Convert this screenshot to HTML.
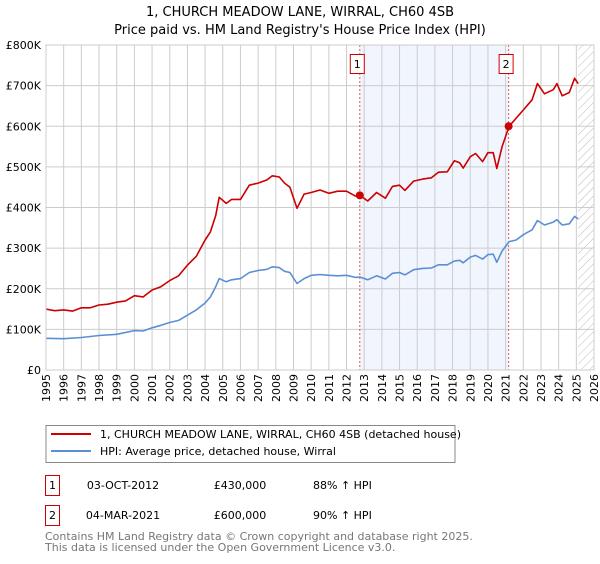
<!DOCTYPE html>
<html><head><meta charset="utf-8"><style>
body{margin:0;background:#fff;width:600px;height:560px;overflow:hidden;font-family:"DejaVu Sans","Liberation Sans",sans-serif;}
svg text{font-family:"DejaVu Sans","Liberation Sans",sans-serif;}
</style></head><body>
<svg id="chart" width="600" height="560" xmlns="http://www.w3.org/2000/svg">
<defs><pattern id="hatch" width="6" height="6" patternUnits="userSpaceOnUse" patternTransform="rotate(45)"><line x1="0" y1="0" x2="0" y2="6" stroke="#bbb" stroke-width="1"/></pattern></defs>
<text x="300" y="16" text-anchor="middle" font-size="13">1, CHURCH MEADOW LANE, WIRRAL, CH60 4SB</text>
<text x="300" y="34" text-anchor="middle" font-size="13">Price paid vs. HM Land Registry's House Price Index (HPI)</text>
<g id="plot"></g>
<g>
<rect x="46" y="425.5" width="409" height="37" fill="#fff" stroke="#888"/>
<line x1="51" y1="434" x2="91" y2="434" stroke="#cc0000" stroke-width="2"/>
<text x="100" y="438" font-size="11">1, CHURCH MEADOW LANE, WIRRAL, CH60 4SB (detached house)</text>
<line x1="51" y1="451" x2="91" y2="451" stroke="#5b8fd4" stroke-width="2"/>
<text x="100" y="455" font-size="11">HPI: Average price, detached house, Wirral</text>
</g>
<g font-size="11">
<rect x="45.5" y="475.5" width="14" height="20" fill="#fff" stroke="#cc0000"/>
<text x="52.5" y="489" text-anchor="middle">1</text>
<text x="123" y="489" text-anchor="middle">03-OCT-2012</text>
<text x="240" y="489" text-anchor="middle">£430,000</text>
<text x="313" y="489">88% ↑ HPI</text>
</g>
<g font-size="11">
<rect x="45.5" y="505.5" width="14" height="20" fill="#fff" stroke="#cc0000"/>
<text x="52.5" y="519" text-anchor="middle">2</text>
<text x="123" y="519" text-anchor="middle">04-MAR-2021</text>
<text x="240" y="519" text-anchor="middle">£600,000</text>
<text x="313" y="519">90% ↑ HPI</text>
</g>
<text x="45" y="540" font-size="11" fill="#777">Contains HM Land Registry data © Crown copyright and database right 2025.</text>
<text x="45" y="551" font-size="11" fill="#777">This data is licensed under the Open Government Licence v3.0.</text>
</svg>
<script>
const hpiYears=[1995,1996,1997,1998,1999,2000,2000.5,2001,2001.5,2002,2002.5,2003,2003.5,2004,2004.3,2004.6,2004.8,2005.2,2005.5,2006,2006.5,2007,2007.5,2007.8,2008.2,2008.5,2008.8,2009.2,2009.6,2010,2010.5,2011,2011.5,2012,2012.5,2012.75,2013.2,2013.7,2014.2,2014.6,2015,2015.3,2015.8,2016.3,2016.8,2017.2,2017.7,2018.1,2018.4,2018.6,2019,2019.3,2019.7,2020,2020.3,2020.5,2020.8,2021.2,2021.6,2022,2022.5,2022.8,2023.2,2023.7,2023.9,2024.2,2024.6,2024.9,2025.1];
const hpiValues=[78,77,80,85,88,97,96,104,110,117,122,135,148,165,180,205,225,217,222,225,240,245,248,254,252,243,240,213,225,233,235,233,232,233,228,229,222,232,224,238,240,234,247,250,251,259,259,268,270,264,278,282,273,284,285,265,293,316,320,333,345,368,357,364,370,357,360,378,372];
const priceYears=[1995,1995.5,1996,1996.5,1997,1997.5,1998,1998.5,1999,1999.5,2000,2000.5,2001,2001.5,2002,2002.5,2003,2003.5,2004,2004.3,2004.6,2004.8,2005.2,2005.5,2006,2006.5,2007,2007.5,2007.8,2008.2,2008.5,2008.8,2009.2,2009.6,2010,2010.5,2011,2011.5,2012,2012.5,2012.75,2013.2,2013.7,2014.2,2014.6,2015,2015.3,2015.8,2016.3,2016.8,2017.2,2017.7,2018.1,2018.4,2018.6,2019,2019.3,2019.7,2020,2020.3,2020.5,2020.8,2021.2,2021.6,2022,2022.5,2022.8,2023.2,2023.7,2023.9,2024.2,2024.6,2024.9,2025.1];
const priceValues=[150,146,148,145,153,153,160,162,167,170,183,180,197,205,220,232,258,280,320,340,380,425,410,420,420,455,460,468,478,475,460,450,398,433,437,443,435,440,440,428,430,416,437,423,452,455,442,465,470,473,487,488,515,510,497,525,533,513,535,535,496,550,600,620,640,665,705,680,690,705,675,683,718,705];
const saleYears=[2012.75,2021.17];
const saleValues=[430,600];
const saleLabels=["1","2"];
const yTicks=[0,100,200,300,400,500,600,700,800];
const yTickLabels=["£0","£100K","£200K","£300K","£400K","£500K","£600K","£700K","£800K"];
const xStart=1995,xEnd=2026;

const X0=46,X1=594,Y0=370,Y1=45;
const xs=y=>X0+(y-xStart)/(xEnd-xStart)*(X1-X0);
const ys=v=>Y0-v/800*(Y0-Y1);
const NS="http://www.w3.org/2000/svg";
const g=document.getElementById('plot');
function mk(t,a){const e=document.createElementNS(NS,t);for(const k in a)e.setAttribute(k,a[k]);g.appendChild(e);return e;}
let e;
e=mk('rect',{x:xs(saleYears[0]),y:Y1,width:xs(saleYears[1])-xs(saleYears[0]),height:Y0-Y1,fill:'#eef3fc',opacity:0.8});


e=mk('rect',{x:xs(2025.1),y:Y1,width:X1-xs(2025.1),height:Y0-Y1,fill:'url(#hatch)'});


for(let yr=xStart;yr<=xEnd;yr++){
 e=mk('line',{x1:xs(yr),x2:xs(yr),y1:Y1,y2:Y0,stroke:'#ccc','stroke-width':1});
 
 
 e=mk('text',{transform:`translate(${xs(yr)+4},${Y0+4}) rotate(-90)`,'text-anchor':'end','font-size':11});
 e.textContent=yr;
 
 
}
yTicks.forEach((v,i)=>{
 e=mk('line',{x1:X0,x2:X1,y1:ys(v),y2:ys(v),stroke:'#ccc','stroke-width':1});
 
 
 e=mk('text',{x:X0-5,y:ys(v)+4,'text-anchor':'end','font-size':11});
 e.textContent=yTickLabels[i];
 
 
});
saleYears.forEach((yr,i)=>{
 e=mk('line',{x1:xs(yr),x2:xs(yr),y1:Y1,y2:Y0,stroke:'#e05555','stroke-width':1,'stroke-dasharray':'2,2'});
 
 
});
function path(xa,va,col,name){
 const d=xa.map((x,i)=>(i?'L':'M')+xs(x).toFixed(1)+','+ys(va[i]).toFixed(1)).join('');
 const p=mk('path',{d:d,fill:'none',stroke:col,'stroke-width':1.6,'stroke-linejoin':'round'});
 
 
}
path(hpiYears,hpiValues,'#5b8fd4','hpi-line');
path(priceYears,priceValues,'#cc0000','price-paid-line');
saleYears.forEach((yr,i)=>{
 e=mk('circle',{cx:xs(yr),cy:ys(saleValues[i]),r:4,fill:'#cc0000'});
 
 
 e=mk('rect',{x:xs(yr)-9.5,y:54.5,width:14,height:19,fill:'#fff',stroke:'#cc0000'});
 
 
 e=mk('text',{x:xs(yr)-2.5,y:68,'text-anchor':'middle','font-size':11});
 e.textContent=saleLabels[i];
 
 
});
e=mk('rect',{x:X0,y:Y1,width:X1-X0,height:Y0-Y1,fill:'none',stroke:'#ccc'});


</script>
</body></html>
